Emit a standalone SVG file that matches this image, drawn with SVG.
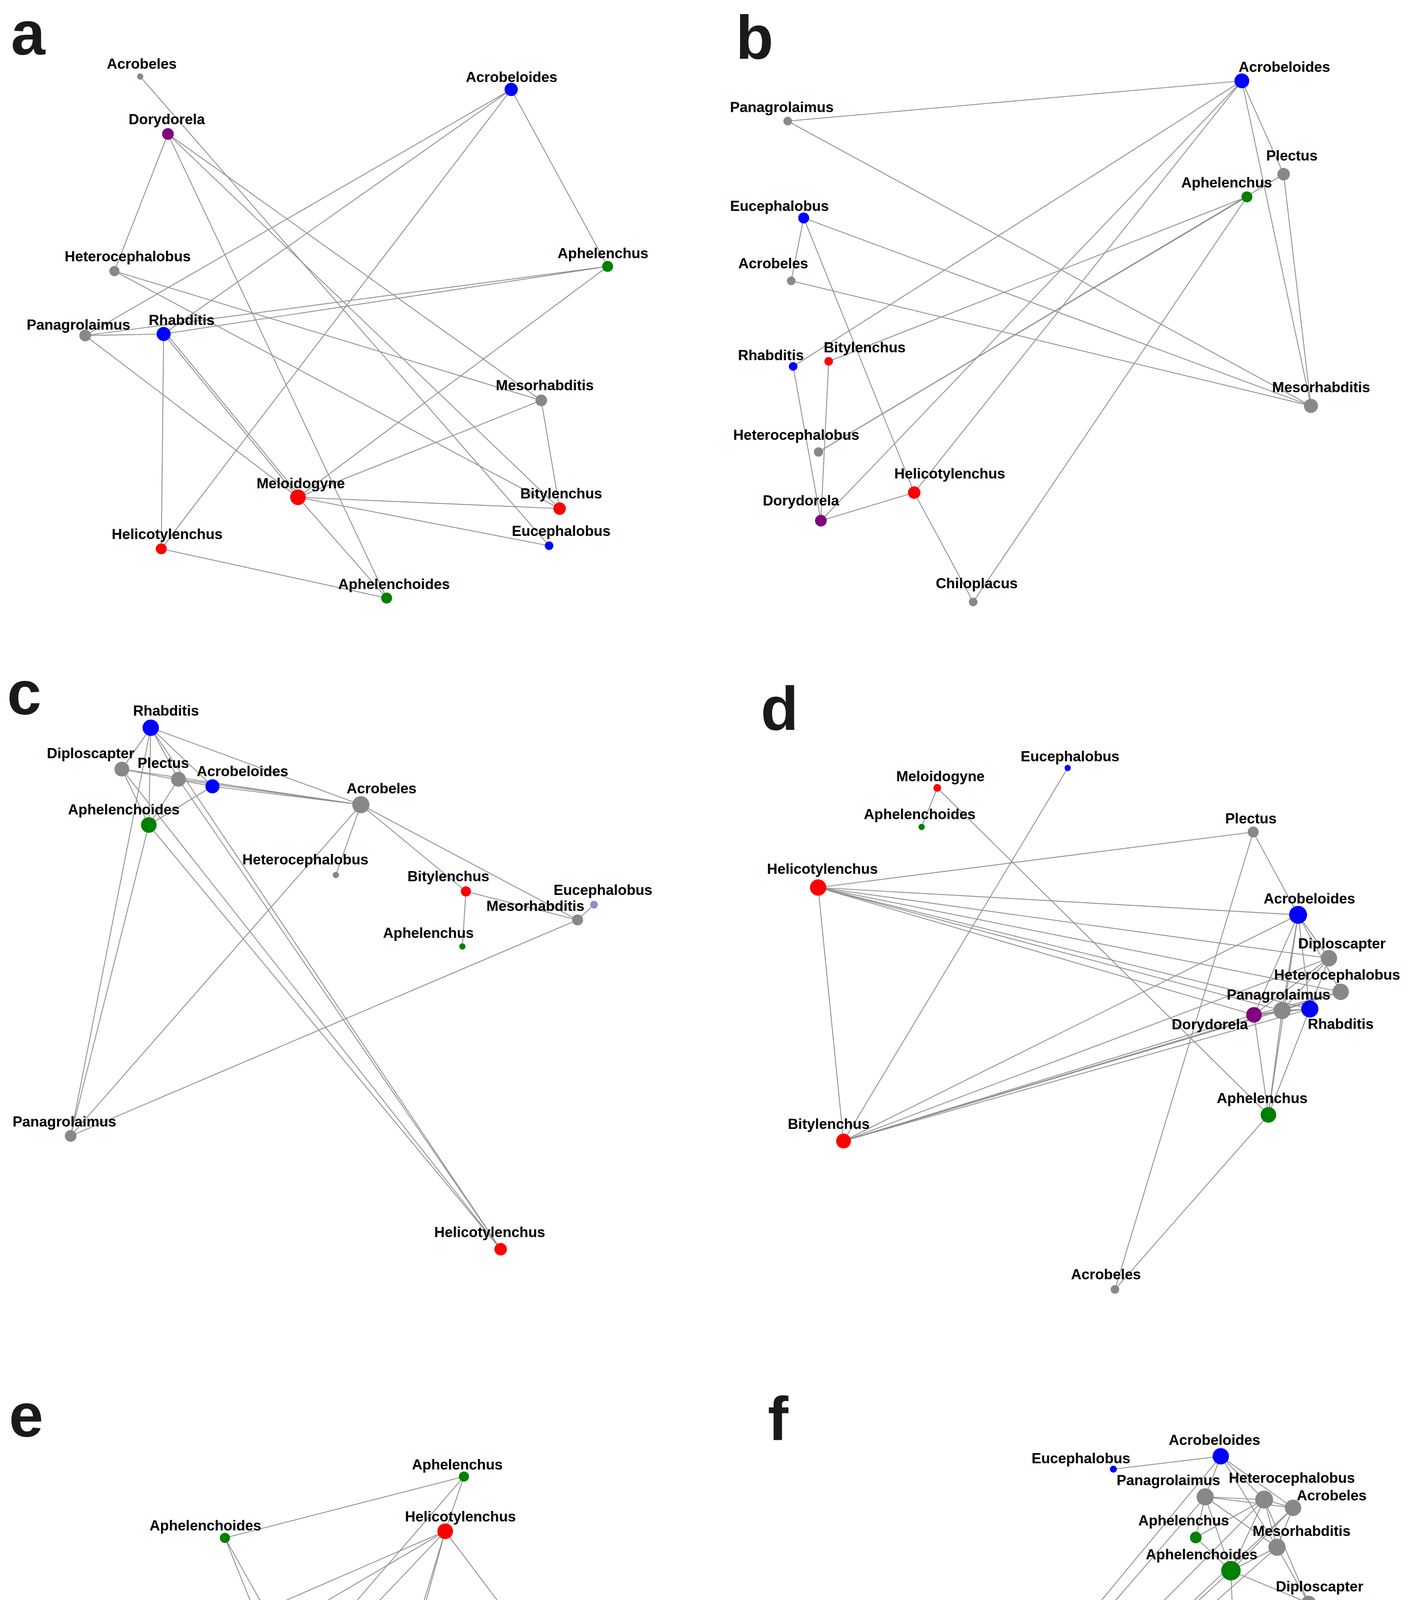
<svg xmlns="http://www.w3.org/2000/svg" width="3608" height="5213" viewBox="0 0 3608 5213">
<style>
.bg{fill:#ffffff}
.edges line{stroke:#8e8e8e;stroke-width:2.2;fill:none}
.lbl{font-family:"Liberation Sans",Arial,sans-serif;font-weight:bold;font-size:37px;text-anchor:middle;fill:#000}
.pl{font-family:"Liberation Sans",Arial,sans-serif;font-weight:bold;font-size:158px;fill:#1a1a1a}
.gy{fill:#888888}.bl{fill:#0000ff}.rd{fill:#ff0000}.gn{fill:#008000}.pu{fill:#800080}.lb{fill:#8a8fc8}
</style>
<rect class="bg" x="0" y="0" width="3608" height="5213"/>
<g id="panel-letters">
<text class="pl" x="28" y="139">a</text>
<text class="pl" x="1884" y="150">b</text>
<text class="pl" x="18" y="1828">c</text>
<text class="pl" x="1948" y="1868">d</text>
<text class="pl" x="23" y="3677">e</text>
<text class="pl" x="1966" y="3686">f</text>
</g>
<g id="connectors" class="edges">
<!-- panel a -->
<line x1="359" y1="196" x2="1406" y2="1397"/>
<line x1="430" y1="343" x2="293" y2="694"/>
<line x1="430" y1="343" x2="990" y2="1531"/>
<line x1="430" y1="343" x2="1386" y2="1025"/>
<line x1="430" y1="343" x2="1433" y2="1302"/>
<line x1="1309" y1="229" x2="218" y2="859"/>
<line x1="1309" y1="229" x2="419" y2="855"/>
<line x1="1309" y1="229" x2="413" y2="1405"/>
<line x1="1309" y1="229" x2="1556" y2="682"/>
<line x1="1556" y1="682" x2="218" y2="859"/>
<line x1="1556" y1="682" x2="419" y2="855"/>
<line x1="1556" y1="682" x2="763" y2="1273"/>
<line x1="218" y1="859" x2="419" y2="855"/>
<line x1="218" y1="859" x2="763" y2="1273"/>
<line x1="419" y1="855" x2="763" y2="1273"/>
<line x1="424" y1="852" x2="768" y2="1270"/>
<line x1="419" y1="855" x2="413" y2="1405"/>
<line x1="293" y1="694" x2="1386" y2="1025"/>
<line x1="293" y1="694" x2="1433" y2="1302"/>
<line x1="1386" y1="1025" x2="763" y2="1273"/>
<line x1="1386" y1="1025" x2="1433" y2="1302"/>
<line x1="763" y1="1273" x2="1433" y2="1302"/>
<line x1="763" y1="1273" x2="1406" y2="1397"/>
<line x1="763" y1="1273" x2="990" y2="1531"/>
<line x1="413" y1="1405" x2="990" y2="1531"/>
<!-- panel b -->
<line x1="3180" y1="207" x2="2017" y2="310"/>
<line x1="3180" y1="207" x2="2031" y2="938"/>
<line x1="3180" y1="207" x2="2102" y2="1333"/>
<line x1="3180" y1="207" x2="2341" y2="1261"/>
<line x1="3180" y1="207" x2="3287" y2="446"/>
<line x1="3180" y1="207" x2="3357" y2="1039"/>
<line x1="3287" y1="446" x2="3357" y2="1039"/>
<line x1="3193" y1="504" x2="2122" y2="925"/>
<line x1="3193" y1="504" x2="2096" y2="1157"/>
<line x1="3287" y1="446" x2="2096" y2="1157"/>
<line x1="3193" y1="504" x2="2492" y2="1541"/>
<line x1="2017" y1="310" x2="3357" y2="1039"/>
<line x1="2058" y1="558" x2="3357" y2="1039"/>
<line x1="2058" y1="558" x2="2026" y2="719"/>
<line x1="2058" y1="558" x2="2341" y2="1261"/>
<line x1="2026" y1="719" x2="3357" y2="1039"/>
<line x1="2031" y1="938" x2="2102" y2="1333"/>
<line x1="2122" y1="925" x2="2102" y2="1333"/>
<line x1="2102" y1="1333" x2="2341" y2="1261"/>
<line x1="2341" y1="1261" x2="2492" y2="1541"/>
<!-- panel c -->
<line x1="386" y1="1863" x2="924" y2="2060"/>
<line x1="386" y1="1863" x2="312" y2="1969"/>
<line x1="386" y1="1863" x2="181" y2="2908"/>
<line x1="386" y1="1863" x2="381" y2="2112"/>
<line x1="386" y1="1863" x2="457" y2="1995"/>
<line x1="386" y1="1863" x2="544" y2="2013"/>
<line x1="386" y1="1863" x2="1282" y2="3198"/>
<line x1="312" y1="1969" x2="924" y2="2060"/>
<line x1="312" y1="1969" x2="544" y2="2013"/>
<line x1="312" y1="1969" x2="381" y2="2112"/>
<line x1="312" y1="1969" x2="1282" y2="3198"/>
<line x1="457" y1="1995" x2="924" y2="2060"/>
<line x1="457" y1="1995" x2="381" y2="2112"/>
<line x1="457" y1="1995" x2="1282" y2="3198"/>
<line x1="544" y1="2013" x2="924" y2="2060"/>
<line x1="544" y1="2013" x2="381" y2="2112"/>
<line x1="381" y1="2112" x2="181" y2="2908"/>
<line x1="381" y1="2112" x2="1282" y2="3198"/>
<line x1="924" y1="2060" x2="860" y2="2240"/>
<line x1="924" y1="2060" x2="181" y2="2908"/>
<line x1="924" y1="2060" x2="1193" y2="2282"/>
<line x1="924" y1="2060" x2="1479" y2="2355"/>
<line x1="1193" y1="2282" x2="1479" y2="2355"/>
<line x1="1193" y1="2282" x2="1184" y2="2423"/>
<line x1="1479" y1="2355" x2="1521" y2="2316"/>
<line x1="1479" y1="2355" x2="181" y2="2908"/>
<!-- panel d -->
<line x1="2400" y1="2017" x2="2360" y2="2117"/>
<line x1="2400" y1="2017" x2="3248" y2="2854"/>
<line x1="2734" y1="1966" x2="2160" y2="2921"/>
<line x1="3209" y1="2130" x2="2095" y2="2272"/>
<line x1="3209" y1="2130" x2="3324" y2="2342"/>
<line x1="3209" y1="2130" x2="2855" y2="3301"/>
<line x1="2095" y1="2272" x2="2160" y2="2921"/>
<line x1="2095" y1="2272" x2="3324" y2="2342"/>
<line x1="2095" y1="2272" x2="3403" y2="2453"/>
<line x1="2095" y1="2272" x2="3433" y2="2539"/>
<line x1="2095" y1="2272" x2="3354" y2="2583"/>
<line x1="2095" y1="2272" x2="3283" y2="2587"/>
<line x1="2095" y1="2272" x2="3211" y2="2598"/>
<line x1="2160" y1="2921" x2="3324" y2="2342"/>
<line x1="2160" y1="2921" x2="3403" y2="2453"/>
<line x1="2160" y1="2921" x2="3283" y2="2587"/>
<line x1="2160" y1="2921" x2="3211" y2="2598"/>
<line x1="2160" y1="2921" x2="3354" y2="2583"/>
<line x1="2160" y1="2921" x2="3433" y2="2539"/>
<line x1="3324" y1="2342" x2="3403" y2="2453"/>
<line x1="3324" y1="2342" x2="3433" y2="2539"/>
<line x1="3324" y1="2342" x2="3283" y2="2587"/>
<line x1="3324" y1="2342" x2="3354" y2="2583"/>
<line x1="3324" y1="2342" x2="3211" y2="2598"/>
<line x1="3324" y1="2342" x2="3248" y2="2854"/>
<line x1="3403" y1="2453" x2="3283" y2="2587"/>
<line x1="3403" y1="2453" x2="3354" y2="2583"/>
<line x1="3403" y1="2453" x2="3211" y2="2598"/>
<line x1="3433" y1="2539" x2="3283" y2="2587"/>
<line x1="3433" y1="2539" x2="3211" y2="2598"/>
<line x1="3211" y1="2598" x2="3283" y2="2587"/>
<line x1="3211" y1="2598" x2="3354" y2="2583"/>
<line x1="3283" y1="2587" x2="3354" y2="2583"/>
<line x1="3248" y1="2854" x2="3211" y2="2598"/>
<line x1="3248" y1="2854" x2="3283" y2="2587"/>
<line x1="3248" y1="2854" x2="3354" y2="2583"/>
<line x1="3248" y1="2854" x2="2855" y2="3301"/>
<!-- panel e -->
<line x1="1188" y1="3780" x2="576" y2="3937"/>
<line x1="1188" y1="3780" x2="1140" y2="3920"/>
<line x1="1188" y1="3780" x2="329" y2="4775"/>
<line x1="1140" y1="3920" x2="329" y2="4775"/>
<line x1="576" y1="3937" x2="1019" y2="5034"/>
<line x1="576" y1="3937" x2="1232" y2="5103"/>
<line x1="1140" y1="3920" x2="227" y2="4316"/>
<line x1="1140" y1="3920" x2="382" y2="4366"/>
<line x1="1140" y1="3920" x2="1564" y2="4483"/>
<line x1="1140" y1="3920" x2="814" y2="5110"/>
<line x1="1140" y1="3920" x2="773" y2="5124"/>
<line x1="329" y1="4775" x2="1564" y2="4483"/>
<line x1="329" y1="4775" x2="226" y2="4183"/>
<line x1="329" y1="4775" x2="227" y2="4316"/>
<line x1="329" y1="4775" x2="316" y2="4212"/>
<line x1="329" y1="4775" x2="382" y2="4366"/>
<line x1="226" y1="4183" x2="316" y2="4212"/>
<line x1="226" y1="4183" x2="227" y2="4316"/>
<line x1="226" y1="4183" x2="382" y2="4366"/>
<line x1="226" y1="4183" x2="1564" y2="4483"/>
<line x1="316" y1="4212" x2="1564" y2="4483"/>
<line x1="316" y1="4212" x2="227" y2="4316"/>
<line x1="316" y1="4212" x2="382" y2="4366"/>
<line x1="227" y1="4316" x2="382" y2="4366"/>
<line x1="227" y1="4316" x2="1564" y2="4483"/>
<line x1="382" y1="4366" x2="1564" y2="4483"/>
<line x1="329" y1="4775" x2="1019" y2="5034"/>
<line x1="1019" y1="5034" x2="1232" y2="5103"/>
<line x1="329" y1="4775" x2="814" y2="5110"/>
<line x1="329" y1="4775" x2="773" y2="5124"/>
<line x1="1019" y1="5034" x2="814" y2="5110"/>
<line x1="814" y1="5110" x2="985" y2="5094"/>
<line x1="814" y1="5110" x2="1232" y2="5103"/>
<line x1="773" y1="5124" x2="985" y2="5094"/>
<line x1="773" y1="5124" x2="1232" y2="5103"/>
<line x1="985" y1="5094" x2="1232" y2="5103"/>
<line x1="773" y1="5124" x2="814" y2="5110"/>
<!-- panel f -->
<line x1="2013" y1="5072" x2="3126" y2="3728"/>
<line x1="2013" y1="5072" x2="3086" y2="3832"/>
<line x1="2013" y1="5072" x2="3237" y2="3839"/>
<line x1="2013" y1="5072" x2="3311" y2="3860"/>
<line x1="2013" y1="5072" x2="3152" y2="4021"/>
<line x1="2013" y1="5072" x2="3270" y2="3961"/>
<line x1="2013" y1="5072" x2="3351" y2="4104"/>
<line x1="2851" y1="3761" x2="3126" y2="3728"/>
<line x1="3126" y1="3728" x2="3086" y2="3832"/>
<line x1="3126" y1="3728" x2="3237" y2="3839"/>
<line x1="3126" y1="3728" x2="3311" y2="3860"/>
<line x1="3126" y1="3728" x2="3270" y2="3961"/>
<line x1="3086" y1="3832" x2="3237" y2="3839"/>
<line x1="3086" y1="3832" x2="3311" y2="3860"/>
<line x1="3086" y1="3832" x2="3062" y2="3936"/>
<line x1="3086" y1="3832" x2="3152" y2="4021"/>
<line x1="3086" y1="3832" x2="3270" y2="3961"/>
<line x1="3237" y1="3839" x2="3062" y2="3936"/>
<line x1="3237" y1="3839" x2="3311" y2="3860"/>
<line x1="3237" y1="3839" x2="3270" y2="3961"/>
<line x1="3237" y1="3839" x2="3152" y2="4021"/>
<line x1="3237" y1="3839" x2="3351" y2="4104"/>
<line x1="3311" y1="3860" x2="3270" y2="3961"/>
<line x1="3311" y1="3860" x2="3152" y2="4021"/>
<line x1="3062" y1="3936" x2="3152" y2="4021"/>
<line x1="3152" y1="4021" x2="3270" y2="3961"/>
<line x1="3152" y1="4021" x2="3351" y2="4104"/>
<line x1="3152" y1="4021" x2="3160" y2="4234"/>
<line x1="3270" y1="3961" x2="3351" y2="4104"/>
<line x1="3351" y1="4104" x2="3160" y2="4234"/>
<line x1="3160" y1="4234" x2="3029" y2="4417"/>
</g>
<!-- panel a nodes -->
<g id="a-Acrobeles"><circle class="gy" cx="359" cy="196" r="8"/><text class="lbl" x="363" y="176">Acrobeles</text></g>
<g id="a-Acrobeloides"><circle class="bl" cx="1309" cy="229" r="17"/><text class="lbl" x="1310" y="210">Acrobeloides</text></g>
<g id="a-Dorydorela"><circle class="pu" cx="430" cy="343" r="15"/><text class="lbl" x="427" y="318">Dorydorela</text></g>
<g id="a-Heterocephalobus"><circle class="gy" cx="293" cy="694" r="13"/><text class="lbl" x="327" y="669">Heterocephalobus</text></g>
<g id="a-Aphelenchus"><circle class="gn" cx="1556" cy="682" r="14"/><text class="lbl" x="1544" y="661">Aphelenchus</text></g>
<g id="a-Panagrolaimus"><circle class="gy" cx="218" cy="859" r="15"/><text class="lbl" x="201" y="844">Panagrolaimus</text></g>
<g id="a-Rhabditis"><circle class="bl" cx="419" cy="855" r="18"/><text class="lbl" x="465" y="832">Rhabditis</text></g>
<g id="a-Mesorhabditis"><circle class="gy" cx="1386" cy="1025" r="15"/><text class="lbl" x="1395" y="999">Mesorhabditis</text></g>
<g id="a-Meloidogyne"><circle class="rd" cx="763" cy="1273" r="20"/><text class="lbl" x="770" y="1250">Meloidogyne</text></g>
<g id="a-Bitylenchus"><circle class="rd" cx="1433" cy="1302" r="16"/><text class="lbl" x="1437" y="1276">Bitylenchus</text></g>
<g id="a-Helicotylenchus"><circle class="rd" cx="413" cy="1405" r="14"/><text class="lbl" x="428" y="1380">Helicotylenchus</text></g>
<g id="a-Eucephalobus"><circle class="bl" cx="1406" cy="1397" r="11"/><text class="lbl" x="1437" y="1372">Eucephalobus</text></g>
<g id="a-Aphelenchoides"><circle class="gn" cx="990" cy="1531" r="14"/><text class="lbl" x="1009" y="1508">Aphelenchoides</text></g>
<!-- panel b nodes -->
<g id="b-Acrobeloides"><circle class="bl" cx="3180" cy="207" r="19"/><text class="lbl" x="3289" y="184">Acrobeloides</text></g>
<g id="b-Panagrolaimus"><circle class="gy" cx="2017" cy="310" r="11"/><text class="lbl" x="2002" y="287">Panagrolaimus</text></g>
<g id="b-Plectus"><circle class="gy" cx="3287" cy="446" r="16"/><text class="lbl" x="3308" y="411">Plectus</text></g>
<g id="b-Aphelenchus"><circle class="gn" cx="3193" cy="504" r="14"/><text class="lbl" x="3141" y="480">Aphelenchus</text></g>
<g id="b-Eucephalobus"><circle class="bl" cx="2058" cy="558" r="14"/><text class="lbl" x="1996" y="540">Eucephalobus</text></g>
<g id="b-Acrobeles"><circle class="gy" cx="2026" cy="719" r="11"/><text class="lbl" x="1980" y="687">Acrobeles</text></g>
<g id="b-Rhabditis"><circle class="bl" cx="2031" cy="938" r="11"/><text class="lbl" x="1974" y="922">Rhabditis</text></g>
<g id="b-Bitylenchus"><circle class="rd" cx="2122" cy="925" r="11"/><text class="lbl" x="2214" y="902">Bitylenchus</text></g>
<g id="b-Mesorhabditis"><circle class="gy" cx="3357" cy="1039" r="18"/><text class="lbl" x="3383" y="1004">Mesorhabditis</text></g>
<g id="b-Heterocephalobus"><circle class="gy" cx="2096" cy="1157" r="12"/><text class="lbl" x="2039" y="1126">Heterocephalobus</text></g>
<g id="b-Helicotylenchus"><circle class="rd" cx="2341" cy="1261" r="16"/><text class="lbl" x="2432" y="1225">Helicotylenchus</text></g>
<g id="b-Dorydorela"><circle class="pu" cx="2102" cy="1333" r="15"/><text class="lbl" x="2051" y="1294">Dorydorela</text></g>
<g id="b-Chiloplacus"><circle class="gy" cx="2492" cy="1541" r="11"/><text class="lbl" x="2501" y="1506">Chiloplacus</text></g>
<!-- panel c nodes -->
<g id="c-Rhabditis"><circle class="bl" cx="386" cy="1863" r="21"/><text class="lbl" x="425" y="1832">Rhabditis</text></g>
<g id="c-Diploscapter"><circle class="gy" cx="312" cy="1969" r="19"/><text class="lbl" x="232" y="1941">Diploscapter</text></g>
<g id="c-Plectus"><circle class="gy" cx="457" cy="1995" r="19"/><text class="lbl" x="418" y="1966">Plectus</text></g>
<g id="c-Acrobeloides"><circle class="bl" cx="544" cy="2013" r="18"/><text class="lbl" x="621" y="1987">Acrobeloides</text></g>
<g id="c-Acrobeles"><circle class="gy" cx="924" cy="2060" r="22"/><text class="lbl" x="977" y="2031">Acrobeles</text></g>
<g id="c-Aphelenchoides"><circle class="gn" cx="381" cy="2112" r="20"/><text class="lbl" x="317" y="2085">Aphelenchoides</text></g>
<g id="c-Heterocephalobus"><circle class="gy" cx="860" cy="2240" r="8"/><text class="lbl" x="782" y="2213">Heterocephalobus</text></g>
<g id="c-Bitylenchus"><circle class="rd" cx="1193" cy="2282" r="13"/><text class="lbl" x="1148" y="2256">Bitylenchus</text></g>
<g id="c-Eucephalobus"><circle class="lb" cx="1521" cy="2316" r="10"/><text class="lbl" x="1544" y="2291">Eucephalobus</text></g>
<g id="c-Mesorhabditis"><circle class="gy" cx="1479" cy="2355" r="14"/><text class="lbl" x="1371" y="2332">Mesorhabditis</text></g>
<g id="c-Aphelenchus"><circle class="gn" cx="1184" cy="2423" r="8"/><text class="lbl" x="1097" y="2401">Aphelenchus</text></g>
<g id="c-Panagrolaimus"><circle class="gy" cx="181" cy="2908" r="15"/><text class="lbl" x="165" y="2884">Panagrolaimus</text></g>
<g id="c-Helicotylenchus"><circle class="rd" cx="1282" cy="3198" r="16"/><text class="lbl" x="1254" y="3167">Helicotylenchus</text></g>
<!-- panel d nodes -->
<g id="d-Eucephalobus"><circle class="bl" cx="2734" cy="1966" r="8"/><text class="lbl" x="2740" y="1949">Eucephalobus</text></g>
<g id="d-Meloidogyne"><circle class="rd" cx="2400" cy="2017" r="10"/><text class="lbl" x="2408" y="2000">Meloidogyne</text></g>
<g id="d-Aphelenchoides"><circle class="gn" cx="2360" cy="2117" r="8"/><text class="lbl" x="2355" y="2097">Aphelenchoides</text></g>
<g id="d-Plectus"><circle class="gy" cx="3209" cy="2130" r="14"/><text class="lbl" x="3203" y="2108">Plectus</text></g>
<g id="d-Helicotylenchus"><circle class="rd" cx="2095" cy="2272" r="21"/><text class="lbl" x="2106" y="2237">Helicotylenchus</text></g>
<g id="d-Acrobeloides"><circle class="bl" cx="3324" cy="2342" r="23"/><text class="lbl" x="3353" y="2313">Acrobeloides</text></g>
<g id="d-Diploscapter"><circle class="gy" cx="3403" cy="2453" r="21"/><text class="lbl" x="3436" y="2428">Diploscapter</text></g>
<g id="d-Heterocephalobus"><circle class="gy" cx="3433" cy="2539" r="21"/><text class="lbl" x="3424" y="2508">Heterocephalobus</text></g>
<g id="d-Panagrolaimus"><circle class="gy" cx="3283" cy="2587" r="22"/><text class="lbl" x="3274" y="2559">Panagrolaimus</text></g>
<g id="d-Dorydorela"><circle class="pu" cx="3211" cy="2598" r="20"/><text class="lbl" x="3098" y="2635">Dorydorela</text></g>
<g id="d-Rhabditis"><circle class="bl" cx="3354" cy="2583" r="22"/><text class="lbl" x="3433" y="2634">Rhabditis</text></g>
<g id="d-Aphelenchus"><circle class="gn" cx="3248" cy="2854" r="20"/><text class="lbl" x="3232" y="2824">Aphelenchus</text></g>
<g id="d-Bitylenchus"><circle class="rd" cx="2160" cy="2921" r="19"/><text class="lbl" x="2122" y="2890">Bitylenchus</text></g>
<g id="d-Acrobeles"><circle class="gy" cx="2855" cy="3301" r="11"/><text class="lbl" x="2832" y="3275">Acrobeles</text></g>
<!-- panel e nodes -->
<g id="e-Aphelenchus"><circle class="gn" cx="1188" cy="3780" r="13"/><text class="lbl" x="1171" y="3762">Aphelenchus</text></g>
<g id="e-Aphelenchoides"><circle class="gn" cx="576" cy="3937" r="13"/><text class="lbl" x="526" y="3918">Aphelenchoides</text></g>
<g id="e-Helicotylenchus"><circle class="rd" cx="1140" cy="3920" r="20"/><text class="lbl" x="1179" y="3895">Helicotylenchus</text></g>
<g id="e-Mesorhabditis"><circle class="gy" cx="226" cy="4183" r="17"/><text class="lbl" x="213" y="4153">Mesorhabditis</text></g>
<g id="e-Acrobeloides"><circle class="bl" cx="316" cy="4212" r="18"/><text class="lbl" x="453" y="4214">Acrobeloides</text></g>
<g id="e-Eucephalobus"><circle class="bl" cx="227" cy="4316" r="19"/><text class="lbl" x="201" y="4295">Eucephalobus</text></g>
<g id="e-Heterocephalobus"><circle class="gy" cx="382" cy="4366" r="19"/><text class="lbl" x="458" y="4345">Heterocephalobus</text></g>
<g id="e-Bitylenchus"><circle class="rd" cx="1564" cy="4483" r="18"/><text class="lbl" x="1588" y="4458">Bitylenchus</text></g>
<g id="e-Diploscapter"><circle class="gy" cx="329" cy="4775" r="23"/><text class="lbl" x="304" y="4748">Diploscapter</text></g>
<g id="e-Dorydorela"><circle class="pu" cx="1019" cy="5034" r="19"/><text class="lbl" x="1039" y="5009">Dorydorela</text></g>
<g id="e-Acrobeles"><circle class="gy" cx="985" cy="5094" r="16"/><text class="lbl" x="1017" y="5078">Acrobeles</text></g>
<g id="e-Rhabditis"><circle class="bl" cx="1232" cy="5103" r="18"/><text class="lbl" x="1282" y="5083">Rhabditis</text></g>
<g id="e-Panagrolaimus"><circle class="gy" cx="814" cy="5110" r="19"/><text class="lbl" x="735" y="5091">Panagrolaimus</text></g>
<g id="e-Chiloplacus"><circle class="gy" cx="773" cy="5124" r="20"/><text class="lbl" x="686" y="5160">Chiloplacus</text></g>
<!-- panel f nodes -->
<g id="f-Acrobeloides"><circle class="bl" cx="3126" cy="3728" r="21"/><text class="lbl" x="3110" y="3699">Acrobeloides</text></g>
<g id="f-Eucephalobus"><circle class="bl" cx="2851" cy="3761" r="9"/><text class="lbl" x="2768" y="3746">Eucephalobus</text></g>
<g id="f-Panagrolaimus"><circle class="gy" cx="3086" cy="3832" r="22"/><text class="lbl" x="2992" y="3802">Panagrolaimus</text></g>
<g id="f-Heterocephalobus"><circle class="gy" cx="3237" cy="3839" r="23"/><text class="lbl" x="3308" y="3796">Heterocephalobus</text></g>
<g id="f-Acrobeles"><circle class="gy" cx="3311" cy="3860" r="21"/><text class="lbl" x="3410" y="3841">Acrobeles</text></g>
<g id="f-Aphelenchus"><circle class="gn" cx="3062" cy="3936" r="15"/><text class="lbl" x="3031" y="3905">Aphelenchus</text></g>
<g id="f-Mesorhabditis"><circle class="gy" cx="3270" cy="3961" r="22"/><text class="lbl" x="3333" y="3932">Mesorhabditis</text></g>
<g id="f-Aphelenchoides"><circle class="gn" cx="3152" cy="4021" r="25"/><text class="lbl" x="3077" y="3992">Aphelenchoides</text></g>
<g id="f-Diploscapter"><circle class="gy" cx="3351" cy="4104" r="19"/><text class="lbl" x="3379" y="4074">Diploscapter</text></g>
<g id="f-Plectus"><circle class="gy" cx="3160" cy="4234" r="14"/><text class="lbl" x="3125" y="4204">Plectus</text></g>
<g id="f-Rhabditis"><circle class="bl" cx="3029" cy="4417" r="9"/><text class="lbl" x="3054" y="4387">Rhabditis</text></g>
<g id="f-Helicotylenchus"><circle class="rd" cx="2013" cy="5072" r="22"/><text class="lbl" x="2072" y="5038">Helicotylenchus</text></g>
</svg>
